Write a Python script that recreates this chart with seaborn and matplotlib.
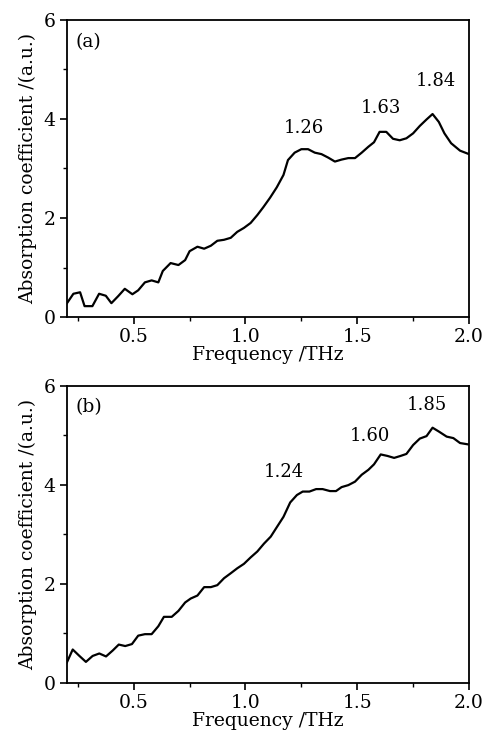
import matplotlib
matplotlib.use("Agg")
import matplotlib.pyplot as plt
import seaborn as sns
import pandas as pd
from matplotlib.ticker import MultipleLocator

freq_a = [0.20, 0.23, 0.26, 0.28, 0.315, 0.345, 0.375, 0.40, 0.43, 0.46, 0.494, 0.52, 0.55, 0.58, 0.61,
          0.63, 0.665, 0.70, 0.73, 0.75, 0.785, 0.815, 0.845, 0.874, 0.904, 0.934, 0.963, 0.993, 1.023,
          1.053, 1.08, 1.11, 1.14, 1.17, 1.19, 1.22, 1.25, 1.28, 1.31, 1.34, 1.37, 1.40, 1.43, 1.46, 1.49,
          1.52, 1.55, 1.575, 1.60, 1.63, 1.66, 1.69, 1.72, 1.75, 1.78, 1.81, 1.837, 1.865, 1.89, 1.92,
          1.96, 2.00]
abs_a = [0.27, 0.47, 0.50, 0.22, 0.22, 0.47, 0.43, 0.28, 0.42, 0.57, 0.46, 0.54, 0.70, 0.74, 0.70,
         0.93, 1.09, 1.05, 1.15, 1.33, 1.42, 1.38, 1.44, 1.54, 1.56, 1.60, 1.72, 1.80, 1.90,
         2.06, 2.22, 2.41, 2.62, 2.87, 3.17, 3.32, 3.39, 3.39, 3.32, 3.29, 3.22, 3.14, 3.18, 3.21, 3.21,
         3.32, 3.44, 3.53, 3.74, 3.74, 3.60, 3.57, 3.61, 3.71, 3.86, 3.99, 4.10, 3.94, 3.71, 3.51,
         3.36, 3.29]

freq_b = [0.20, 0.227, 0.257, 0.286, 0.316, 0.346, 0.376, 0.406, 0.433, 0.462, 0.492, 0.52, 0.55, 0.58,
          0.61, 0.635, 0.67, 0.70, 0.73, 0.755, 0.785, 0.815, 0.845, 0.874, 0.904, 0.934, 0.963, 0.993,
          1.023, 1.053, 1.083, 1.113, 1.14, 1.17, 1.20, 1.23, 1.256, 1.286, 1.316, 1.345, 1.378, 1.405,
          1.43, 1.46, 1.49, 1.52, 1.55, 1.575, 1.605, 1.635, 1.665, 1.694, 1.72, 1.75, 1.78, 1.81, 1.837,
          1.866, 1.90, 1.93, 1.96, 2.00]
abs_b = [0.40, 0.67, 0.54, 0.42, 0.54, 0.59, 0.53, 0.65, 0.77, 0.74, 0.78, 0.95, 0.98, 0.98,
         1.14, 1.33, 1.33, 1.45, 1.62, 1.70, 1.76, 1.93, 1.93, 1.97, 2.11, 2.21, 2.31, 2.40,
         2.53, 2.65, 2.81, 2.95, 3.14, 3.35, 3.64, 3.79, 3.86, 3.86, 3.91, 3.91, 3.87, 3.87,
         3.95, 3.99, 4.06, 4.20, 4.30, 4.41, 4.61, 4.58, 4.54, 4.58, 4.62, 4.80, 4.93, 4.98, 5.15,
         5.07, 4.97, 4.94, 4.84, 4.81]

peak_labels_a = ["1.26", "1.63", "1.84"]
peak_pos_a = [(1.263, 3.81), (1.605, 4.23), (1.85, 4.77)]
peak_labels_b = ["1.24", "1.60", "1.85"]
peak_pos_b = [(1.17, 4.26), (1.557, 4.99), (1.81, 5.60)]
panel_labels = ["(a)", "(b)"]

xlabel = "Frequency /THz"
ylabel = "Absorption coefficient /(a.u.)"

sns.set_theme(style="ticks")
plt.rcParams["font.family"] = ["DejaVu Serif"]
plt.rcParams["text.color"] = "black"
plt.rcParams["axes.labelcolor"] = "black"
plt.rcParams["xtick.color"] = "black"
plt.rcParams["ytick.color"] = "black"

fig = plt.figure(figsize=(4.85, 7.39), dpi=100)
ax_a = fig.add_axes([0.1375, 0.571, 0.8295, 0.402])
ax_b = fig.add_axes([0.1375, 0.0762, 0.8295, 0.402])

panels = [
    (ax_a, freq_a, abs_a, peak_labels_a, peak_pos_a, panel_labels[0]),
    (ax_b, freq_b, abs_b, peak_labels_b, peak_pos_b, panel_labels[1]),
]

for ax, fx, fy, plabels, ppos, plabel in panels:
    df = pd.DataFrame({"freq": fx, "absorb": fy})
    sns.lineplot(data=df, x="freq", y="absorb", ax=ax, color="black", linewidth=1.6, sort=False)
    ax.set_xlim(0.2, 2.0)
    ax.set_ylim(0, 6)
    ax.xaxis.set_major_locator(MultipleLocator(0.5))
    ax.xaxis.set_minor_locator(MultipleLocator(0.25))
    ax.yaxis.set_major_locator(MultipleLocator(2))
    ax.yaxis.set_minor_locator(MultipleLocator(1))
    ax.set_xticks([0.5, 1.0, 1.5, 2.0])
    ax.tick_params(which="major", direction="out", length=5, width=1.2, labelsize=13.5,
                   color="black", labelcolor="black", pad=3)
    ax.tick_params(which="minor", direction="out", length=3, width=1.0, color="black")
    for s in ax.spines.values():
        s.set_linewidth(1.3)
        s.set_color("black")
        s.set_visible(True)
    ax.set_xlabel(xlabel, fontsize=13.5, labelpad=0, color="black")
    ax.set_ylabel(ylabel, fontsize=13.5, labelpad=5, color="black")
    for t, (px, py) in zip(plabels, ppos):
        ax.text(px, py, t, ha="center", va="center", fontsize=13, color="black")
    ax.text(0.023, 0.927, plabel, transform=ax.transAxes, ha="left", va="center",
            fontsize=13.5, color="black")

fig.savefig("out.png", dpi=100)
